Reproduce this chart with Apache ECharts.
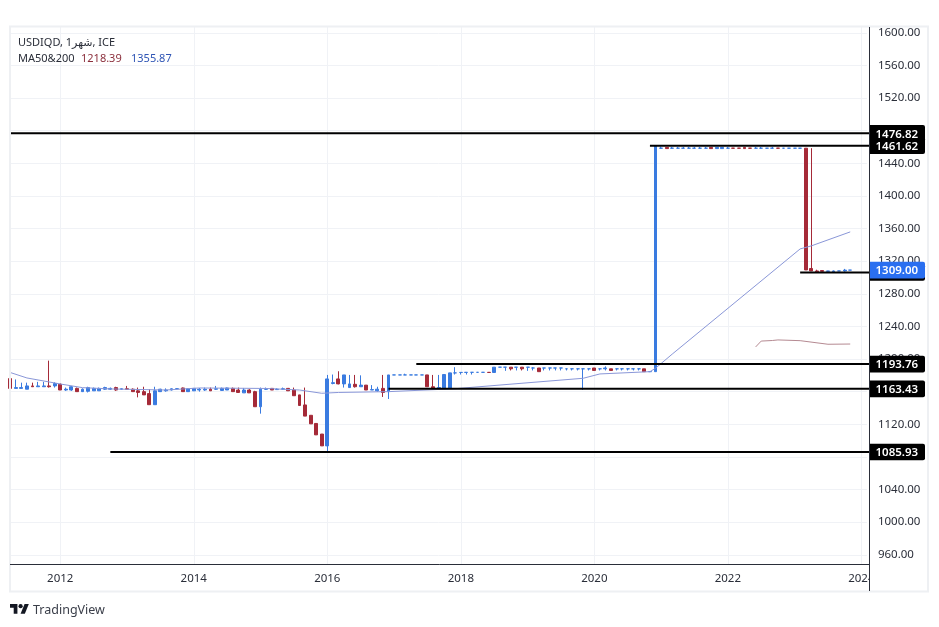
<!DOCTYPE html>
<html><head><meta charset="utf-8">
<style>html,body{margin:0;padding:0;background:#fff}#c{width:939px;height:627px}</style>
<script src="https://cdn.jsdelivr.net/npm/echarts@6/dist/echarts.min.js"></script>
</head><body><div id="c"></div>
<script>
const FIRST_YEAR=2011, FIRST_MONTH=4, MONTH_COUNT=155;
const months=[];
for(let i=0;i<MONTH_COUNT;i++){const t=FIRST_YEAR*12+FIRST_MONTH-1+i;months.push(Math.floor(t/12)+'-'+String(t%12+1).padStart(2,'0'));}

const priceTicks=[960,1000,1040,1080,1120,1160,1200,1240,1280,1320,1360,1400,1440,1480,1520,1560,1600];

const candleOpen=[1176,1164,1164,1163,1167,1166,1166,1167,1167,1169,1162,1162,1164,1160,1160.5,1161,1161,1163,1163,1165,
1163,1163.5,1163,1161,1160,1157.6,1144,1160,1161,1162,1163.5,1164.5,1160,1161,1162,1162,1163,1163,1161.5,1162,
1164,1162,1158.5,1162,1160,1141.5,1163,1164,1162.5,1163,1164,1162,1156,1143.7,1131,1121,1108,1093.5,1170,1175.6,
1169.5,1165,1169,1166,1168,1162,1161,1164,1160,1180.5,1180.5,1180.5,1180.5,1180.5,1180.5,1180.5,1166,1164,1164,1164,
1183,1183.5,1183.6,1183.7,1183.7,1183.7,1183.7,1183.5,1190,1190,1190,1189.9,1190,1189.9,1189,1189,1189,1189,1189,1189,
1188,1188,1188,1188,1188,1189,1188,1188,1188,1188,1188,1188,1188,1188,1188,1184.5,1184.5,1458.5,1459.5,1458.5,
1458.5,1458.5,1458.5,1458.5,1458.5,1458.5,1459.5,1458,1458,1458.5,1458.6,1458.6,1459.5,1458.6,1458.5,1458.5,1458.5,1458.5,1458.6,1458.5,
1458.5,1458.5,1458.5,1458.5,1311,1308,1308.5,1307.5,1307,1308,1308,1309];
const candleClose=[1164,1165,1165,1167,1166,1167,1167,1166,1170,1162,1163,1166,1160,1163,1165,1164,1164,1165,1164,1162,
1163.5,1163,1160,1159,1156,1144,1161,1163,1162,1163.5,1163.7,1160,1163.5,1164,1163,1163,1161,1163.5,1164,1164.5,
1160,1159,1162,1158.5,1141.5,1163,1163.2,1162,1163,1163.5,1161,1155,1143,1130,1120.5,1107,1093.5,1175.6,1171,1169.5,
1180.5,1169.5,1166,1168,1162,1162.5,1163,1159,1180.5,1180.5,1180.5,1180.5,1180.5,1180.5,1180.5,1166,1163.5,1165,1181,1183,
1183,1183.6,1183.7,1183.7,1183.7,1183.7,1183.5,1190,1190,1190,1188,1190,1188,1190,1189,1184.5,1189,1189,1189,1189,
1188,1188,1188,1188,1188,1186,1188,1189,1186,1188,1188,1188,1188,1188,1184.5,1184.6,1461.6,1458.6,1458,1458.6,
1458.5,1458.5,1458.5,1458.5,1458.5,1458.5,1458,1459.5,1459.5,1458.5,1458.5,1458.5,1458,1458.5,1458.5,1458.5,1458.5,1458.5,1458.5,1458.5,
1458.5,1458.5,1458.5,1309.2,1308,1307,1307.5,1308,1308,1308,1309,1309];
const candleLow=[1163,1164,1164,1163,1166,1166,1166,1165,1165,1162,1161,1161,1160,1160,1159,1161,1161,1162,1162,1161,
1162,1163,1160,1153,1156,1144,1144,1160,1160,1161.5,1163,1160,1160,1161,1160,1161,1161,1162,1161,1162,
1160,1158.5,1158.5,1158.5,1141.5,1133,1162,1162,1162,1162,1161,1155,1143,1130,1120.5,1107,1093.5,1086,1169,1169,
1165,1165,1165,1166,1162,1162,1160,1153.5,1151,1180.5,1180.5,1180.5,1180.5,1180.5,1180.5,1166,1163.5,1164,1164,1164,
1181,1181,1181,1181,1183.7,1183.7,1183.7,1183.5,1190,1185.5,1186,1186,1186,1185.5,1186,1184.5,1186,1186,1186,1186,
1186,1186,1186,1162,1186,1186,1186,1186,1186,1186,1186,1186,1186,1186,1184.5,1184.5,1184.5,1458,1458,1458,
1458,1458,1458,1458,1458,1458,1458,1458,1458,1458,1458,1458,1458,1458,1458,1458,1458,1458,1458,1458,
1458,1458,1458,1309.2,1308,1306.5,1307,1307.5,1307,1308,1307,1309];
const candleHigh=[1176,1175,1171,1171,1171,1172,1172,1198,1171.5,1170,1165,1167,1165,1164,1166,1165,1165,1166,1165,1166,
1164,1167,1164,1165,1166,1163,1166,1163.5,1164,1164,1164,1165,1164,1164.5,1164.5,1165,1165,1167,1165,1165,
1165,1165,1164.5,1163,1161,1165,1165,1164.5,1164,1165,1164.5,1165,1156,1165,1131,1121,1108,1180.5,1181,1185,
1180.5,1180.5,1180.5,1180,1168,1168,1166,1180.5,1180.5,1180.5,1180.5,1182,1180.5,1180.5,1180.5,1180.5,1180.5,1180.5,1181,1183,
1190,1183.5,1183.7,1183.7,1183.7,1183.7,1183.7,1190,1190,1190,1190,1190,1190,1190,1190,1189,1189,1189,1189,1189,
1188,1188,1188,1188,1188,1189,1188,1191,1188,1188,1188,1188,1188,1188,1188,1184.6,1461.6,1460.5,1459.5,1460,
1460,1460,1460,1460,1460,1460,1459.5,1459.5,1459.5,1460,1458.6,1458.6,1459.5,1458.6,1460,1460,1458.5,1460,1458.6,1458.5,
1458.5,1458.5,1458.6,1458.6,1458.5,1309.5,1308.5,1307.5,1308.5,1308,1310.5,1309];

const ma200Months=[0,3,9,13,18,28,34,46,52,56,59,68,80,92,103,106,115,116,119,142,144,151];
const ma200Values=[1183.5,1176.8,1169.4,1164.9,1163.3,1162,1164.5,1163.9,1162,1158,1159,1160,1163.6,1170.3,1176.4,1181.7,1184.5,1188.7,1206,1335,1338.7,1355.87];
const ma50Months=[134,135,137,138,142,147,151];
const ma50Values=[1214.8,1222,1222.7,1223.4,1222.5,1218.1,1218.39];

const levelValues=[1461.62,1476.82,1306,1193.76,1163.43,1085.93];
const levelStartMonths=[115,0,142,73,68,18];
const levelLabels=['1461.62','1476.82','','1193.76','1163.43','1085.93'];
const lastPrice=1309.00, lastPriceLabel='1309.00';

const FONT='"Noto Sans","DejaVu Sans",sans-serif';
const UP='#3a7be0', DOWN='#a52a38', GRID='#f0f2f6', INK='#2a2e39';

const candles=candleOpen.map((o,i)=>[o,candleClose[i],candleLow[i],candleHigh[i]]);
const pairs=(m,v)=>m.map((idx,i)=>[months[idx],v[i]]);
const isEvenJan=(i,name)=>{const p=String(name).split('-');return p[1]==='01'&&+p[0]%2===0;};

function priceTag(api,params,y,text,fill){
  const cs=params.coordSys, x=cs.x+cs.width+2.6;
  return [{type:'rect',shape:{x:x,y:y-8.3,width:55.5,height:16.6,r:[0,2,2,0]},style:{fill:fill}},
          {type:'text',style:{x:x+6,y:y+1,text:text,fill:'#fff',font:'600 11.5px '+FONT,verticalAlign:'middle',align:'left'}}];
}

const chart=echarts.init(document.getElementById('c'),null,{renderer:'canvas'});
chart.setOption({
  animation:false,backgroundColor:'#fff',textStyle:{fontFamily:FONT},
  grid:{left:10.2,top:27,width:856.7,height:537.3},
  xAxis:{type:'category',data:months,boundaryGap:false,
    axisLine:{show:false},axisTick:{show:false},
    axisLabel:{interval:isEvenJan,formatter:v=>v.slice(0,4),color:INK,fontSize:11.5,margin:8,fontFamily:FONT,hideOverlap:false},
    splitLine:{show:true,interval:isEvenJan,lineStyle:{color:GRID,width:1}}},
  yAxis:{type:'value',position:'right',min:948.3,max:1607.1,
    axisLine:{show:false},axisTick:{show:false,customValues:priceTicks},
    axisLabel:{customValues:priceTicks,formatter:v=>v.toFixed(2),color:INK,fontSize:11.5,margin:11,padding:[6,0,0,0],fontFamily:FONT},
    splitLine:{show:true,lineStyle:{color:GRID,width:1}}},
  series:[
    {type:'line',name:'MA200',data:pairs(ma200Months,ma200Values),showSymbol:false,symbol:'none',connectNulls:true,z:4,
     lineStyle:{color:'#8a97d8',width:1}},
    {type:'line',name:'MA50',data:pairs(ma50Months,ma50Values),showSymbol:false,symbol:'none',connectNulls:true,z:4,
     lineStyle:{color:'#b58a92',width:1}},
    {type:'candlestick',name:'USDIQD',data:candles,barWidth:3.4,clip:false,z:3,
     itemStyle:{color:UP,color0:DOWN,borderColor:UP,borderColor0:DOWN,borderColorDoji:UP,borderWidth:1}},
    {type:'custom',name:'levels',clip:false,z:10,silent:true,
     data:levelValues.map((v,i)=>[months[levelStartMonths[i]],v,levelLabels[i]]),
     encode:{x:0,y:1},
     renderItem(params,api){
       const p=api.coord([api.value(0),api.value(1)]), cs=params.coordSys;
       return {type:'group',children:[
         {type:'line',shape:{x1:p[0],y1:p[1],x2:cs.x+cs.width+2.6,y2:p[1]},style:{stroke:'#000',lineWidth:2}},
         ...priceTag(api,params,p[1],levelLabels[params.dataIndex],'#000')]};
     }},
    {type:'custom',name:'last',clip:false,z:11,silent:true,
     data:[[months[151],lastPrice]],encode:{x:0,y:1},
     renderItem(params,api){
       const p=api.coord([api.value(0),api.value(1)]);
       return {type:'group',children:priceTag(api,params,p[1],lastPriceLabel,'#2a6ff0')};
     }}
  ],
  graphic:[
    {type:'rect',z:20,silent:true,shape:{x:869,y:565,width:13,height:25},style:{fill:'#fff'}},
    {type:'rect',z:21,silent:true,shape:{x:10,y:26.5,width:918,height:565},style:{fill:'none',stroke:'#eef0f3',lineWidth:2}},
    {type:'line',z:22,silent:true,shape:{x1:10,y1:564.5,x2:869.5,y2:564.5},style:{stroke:'#2a2e39',lineWidth:1}},
    {type:'line',z:22,silent:true,shape:{x1:869.5,y1:27,x2:869.5,y2:591},style:{stroke:'#2a2e39',lineWidth:1}},
    {type:'text',z:23,left:18,top:37,style:{text:'USDIQD, 1شهر, ICE',fill:'#2a2e39',font:'11px '+FONT}},
    {type:'text',z:23,left:18,top:53,style:{text:'MA50&200',fill:'#2a2e39',font:'11px '+FONT}},
    {type:'text',z:23,left:81,top:53,style:{text:'1218.39',fill:'#8b2f3c',font:'11px '+FONT}},
    {type:'text',z:23,left:131,top:53,style:{text:'1355.87',fill:'#2f55b5',font:'11px '+FONT}},
    {type:'group',x:10,y:602,scaleX:0.53,scaleY:0.53,silent:true,children:[
      {type:'polygon',z:23,shape:{points:[[0,4],[14,4],[14,22],[7,22],[7,11],[0,11]]},style:{fill:'#131722'}},
      {type:'polygon',z:23,shape:{points:[[20,22],[28,22],[35.5,4],[27.5,4]]},style:{fill:'#131722'}},
      {type:'circle',z:23,shape:{cx:20,cy:8,r:4},style:{fill:'#131722'}}]},
    {type:'text',z:23,left:33,top:604,style:{text:'TradingView',fill:'#3a3e49',font:'12.5px '+FONT}}
  ]
});
</script></body></html>
